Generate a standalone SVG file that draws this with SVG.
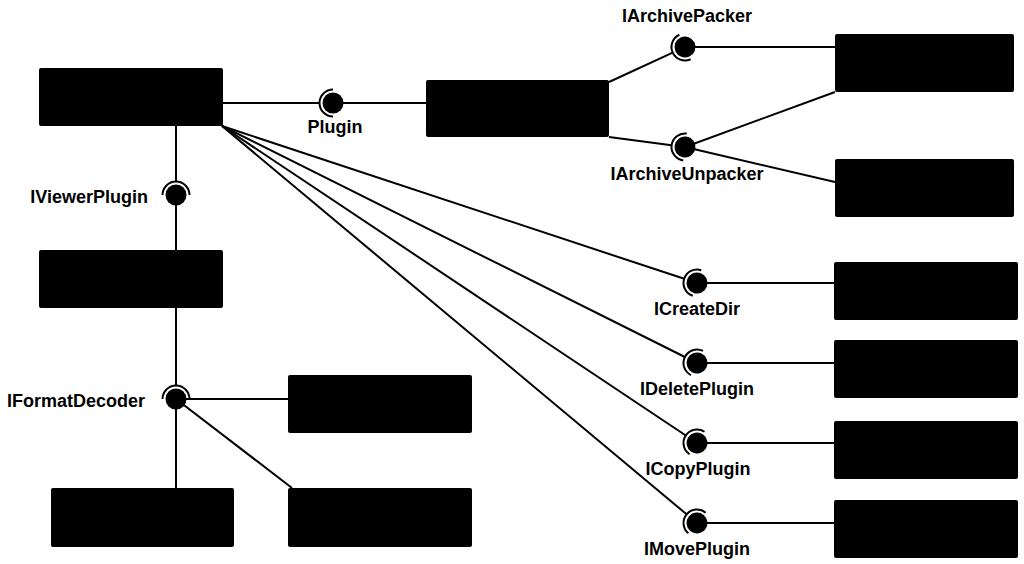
<svg xmlns="http://www.w3.org/2000/svg" xmlns:xlink="http://www.w3.org/1999/xlink" width="1024" height="564" viewBox="0 0 1024 564">
<style>
.box{fill:#000;stroke:none}
.edge{stroke:#000;stroke-width:2;fill:none}
.lbl{font-family:"Liberation Sans",Arial,sans-serif;font-weight:bold;font-size:18px;fill:#000}
.mid{text-anchor:middle}
.end{text-anchor:end}
</style>
<defs>
<g id="sock">
<path d="M0,-13.5 A13.5,13.5 0 0 0 0,13.5" fill="none" stroke="#000" stroke-width="2"/>
<circle r="10.5" fill="#000"/>
</g>
</defs>
<rect width="1024" height="564" fill="#fff"/>
<g id="connectors">
<line class="edge" x1="222" y1="103" x2="319.5" y2="103"/>
<line class="edge" x1="333" y1="103" x2="426" y2="103"/>
<line class="edge" x1="176" y1="126" x2="176" y2="181.5"/>
<line class="edge" x1="176" y1="195" x2="176" y2="250"/>
<line class="edge" x1="176" y1="308" x2="176" y2="385.5"/>
<line class="edge" x1="176" y1="399" x2="176" y2="488"/>
<line class="edge" x1="176" y1="399" x2="288" y2="399"/>
<line class="edge" x1="176" y1="399" x2="292" y2="488"/>
<line class="edge" x1="609" y1="82" x2="672.7" y2="52.6"/>
<line class="edge" x1="685" y1="47" x2="835" y2="47"/>
<line class="edge" x1="609" y1="137" x2="671.6" y2="145.2"/>
<line class="edge" x1="685" y1="147" x2="835" y2="92"/>
<line class="edge" x1="685" y1="147" x2="835" y2="182"/>
<line class="edge" x1="222" y1="126" x2="684.2" y2="278.8"/>
<line class="edge" x1="222" y1="126" x2="684.9" y2="357"/>
<line class="edge" x1="222" y1="126" x2="685.8" y2="435.5"/>
<line class="edge" x1="222" y1="126" x2="686.6" y2="514.3"/>
<line class="edge" x1="697" y1="283" x2="834" y2="283"/>
<line class="edge" x1="697" y1="363" x2="834" y2="363"/>
<line class="edge" x1="697" y1="443" x2="834" y2="443"/>
<line class="edge" x1="697" y1="523" x2="834" y2="523"/>
</g>
<g id="node-core"><rect class="box" x="39" y="68" width="184" height="58" rx="2"/></g>
<g id="node-archive"><rect class="box" x="426" y="80" width="183" height="57" rx="2"/></g>
<g id="node-packer"><rect class="box" x="835" y="34" width="179" height="58" rx="2"/></g>
<g id="node-unpacker"><rect class="box" x="835" y="159" width="179" height="58" rx="2"/></g>
<g id="node-viewer"><rect class="box" x="39" y="250" width="184" height="58" rx="2"/></g>
<g id="node-decoder1"><rect class="box" x="288" y="375" width="184" height="58" rx="2"/></g>
<g id="node-decoder2"><rect class="box" x="51" y="488" width="183" height="59" rx="2"/></g>
<g id="node-decoder3"><rect class="box" x="288" y="488" width="184" height="59" rx="2"/></g>
<g id="node-createdir"><rect class="box" x="834" y="262" width="184" height="58" rx="2"/></g>
<g id="node-delete"><rect class="box" x="834" y="340" width="184" height="58" rx="2"/></g>
<g id="node-copy"><rect class="box" x="834" y="421" width="184" height="58" rx="2"/></g>
<g id="node-move"><rect class="box" x="834" y="500" width="184" height="58" rx="2"/></g>
<g id="if-plugin"><use xlink:href="#sock" href="#sock" transform="translate(333,103)"/><text class="lbl mid" x="335" y="133">Plugin</text></g>
<g id="if-viewer"><use xlink:href="#sock" href="#sock" transform="translate(176,195) rotate(90)"/><text class="lbl end" x="148" y="203">IViewerPlugin</text></g>
<g id="if-decoder"><use xlink:href="#sock" href="#sock" transform="translate(176,399) rotate(90)"/><text class="lbl end" x="145" y="407">IFormatDecoder</text></g>
<g id="if-packer"><use xlink:href="#sock" href="#sock" transform="translate(685,47) rotate(-24.7)"/><text class="lbl mid" x="687" y="22">IArchivePacker</text></g>
<g id="if-unpacker"><use xlink:href="#sock" href="#sock" transform="translate(685,147) rotate(7.5)"/><text class="lbl mid" x="687" y="180">IArchiveUnpacker</text></g>
<g id="if-createdir"><use xlink:href="#sock" href="#sock" transform="translate(697,283) rotate(18.3)"/><text class="lbl mid" x="697" y="315">ICreateDir</text></g>
<g id="if-delete"><use xlink:href="#sock" href="#sock" transform="translate(697,363) rotate(26.5)"/><text class="lbl mid" x="697" y="395">IDeletePlugin</text></g>
<g id="if-copy"><use xlink:href="#sock" href="#sock" transform="translate(697,443) rotate(33.7)"/><text class="lbl mid" x="698" y="475">ICopyPlugin</text></g>
<g id="if-move"><use xlink:href="#sock" href="#sock" transform="translate(697,523) rotate(39.9)"/><text class="lbl mid" x="697" y="555">IMovePlugin</text></g>
</svg>
